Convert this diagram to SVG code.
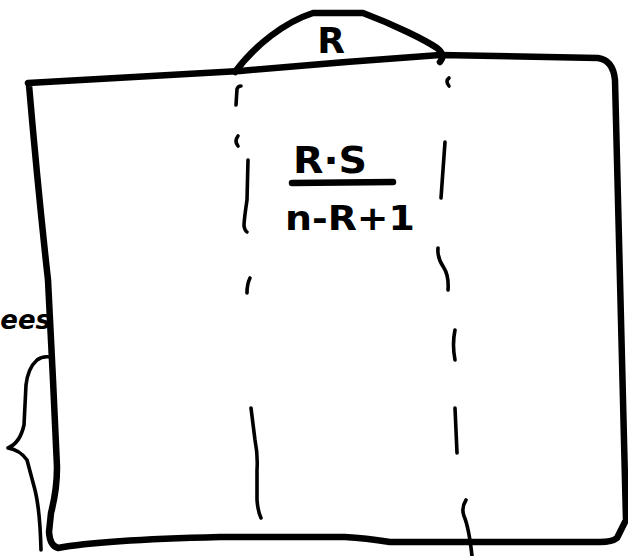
<svg xmlns="http://www.w3.org/2000/svg" width="628" height="556" viewBox="0 0 628 556">
<style>
.thick{fill:none;stroke:#000;stroke-width:6.5;stroke-linecap:round;stroke-linejoin:round}
.thin{fill:none;stroke:#000;stroke-width:3.6;stroke-linecap:round;stroke-linejoin:round}
.hand{font-family:"DejaVu Sans","Liberation Sans",sans-serif;font-weight:bold;fill:#000}
</style>
<rect width="628" height="556" fill="#fff"/>
<g id="frame">
<path class="thick" d="M28,83 L240,71 Q340,62 440,55 L598,58 Q613,60 615,80 L626,520 L617,538 Q612,542 600,542 L390,542 Q365,538 345,537 L220,537 Q100,540 58,548 Q50,546 49,532 L51,513 Q57,490 57,467 L53,380 L48,280 Q38,190 29,85 Z"/>
</g>
<g id="arc-R">
<path class="thick" d="M235,72 C255,45 285,22 313,13 L363,13 C395,25 425,40 437,48 Q446,55 440,62"/>
<text class="hand" x="331" y="53" font-size="36" text-anchor="middle">R</text>
</g>
<g id="fraction">
<text class="hand" x="330" y="173" font-size="38" text-anchor="middle" textLength="74" lengthAdjust="spacingAndGlyphs">R·S</text>
<path class="thick" d="M292,183 L393,182" stroke-width="5.5"/>
<text class="hand" x="285" y="230" font-size="34" textLength="130" lengthAdjust="spacingAndGlyphs">n-R+1</text>
</g>
<g id="left-label">
<text class="hand" x="51" y="329" font-size="26" font-style="italic" text-anchor="end">ees</text>
</g>
<g id="brace">
<path class="thin" d="M50,357 Q42,356 37,360 Q28,368 26,385 L24,425 Q20,443 8,448 Q20,450 27,460 L35,490 Q40,510 41,550"/>
</g>
<g id="connectors">
<path class="thin" d="M236,105 L237,89 Q238,86 241,86"/>
<path class="thin" d="M238,136 Q234,141 238,146"/>
<path class="thin" d="M248,160 L247,200 Q244,220 244,226 Q245,231 247,232"/>
<path class="thin" d="M250,278 Q247,284 247,293"/>
<path class="thin" d="M251,408 L255,440 Q258,455 257,470 L257,500 Q258,512 261,518"/>
<path class="thin" d="M449,78 Q445,81 449,86"/>
<path class="thin" d="M445,142 L443,170 L441,198"/>
<path class="thin" d="M438,248 Q437,258 444,268 Q449,276 448,290"/>
<path class="thin" d="M455,330 Q452,344 455,360"/>
<path class="thin" d="M455,408 L457,453"/>
<path class="thin" d="M466,500 Q461,508 464,516 Q469,528 472,556"/>
</g>
</svg>
